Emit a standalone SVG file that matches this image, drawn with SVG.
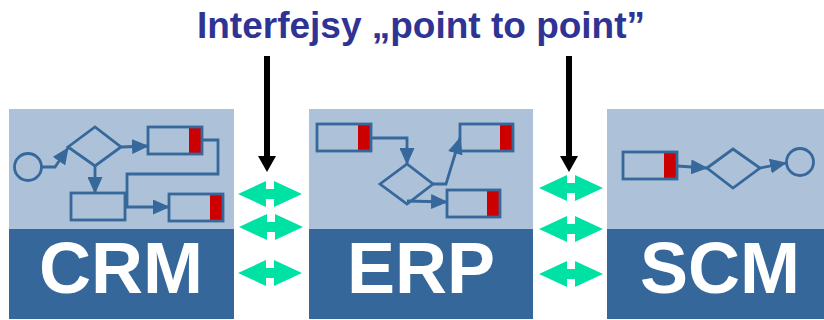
<svg xmlns="http://www.w3.org/2000/svg" width="824" height="320" viewBox="0 0 824 320">
<defs>
<style>
.light{fill:#adc2d8}
.dark{fill:#35679a}
.lbl{font-family:"Liberation Sans",Arial,sans-serif;font-weight:bold;font-size:72px;fill:#ffffff;text-anchor:middle}
.title{font-family:"Liberation Sans",Arial,sans-serif;font-weight:bold;font-size:37px;fill:#2f3394;text-anchor:middle}
.shp{fill:none;stroke:#36689c;stroke-width:2.8}
.red{fill:#cc0000}
.ln{fill:none;stroke:#36689c;stroke-width:2.8;marker-end:url(#ah)}
.grn{fill:#00e2a4}
.blk{fill:#000000}
</style>
<marker id="ah" markerUnits="userSpaceOnUse" markerWidth="17" markerHeight="15" refX="16" refY="7.5" orient="auto" viewBox="0 0 17 15">
<path d="M0,0 L17,7.5 L0,15 Z" fill="#36689c"/>
</marker>
<path id="dbl" d="M-32,0 L-4,-13 L-4,-5 L4,-5 L4,-13 L32,0 L4,13 L4,5 L-4,5 L-4,13 Z"/>
<path id="down" d="M-3,0 L3,0 L3,100 L9,100 L0,116 L-9,100 L-3,100 Z"/>
</defs>
<rect width="824" height="320" fill="#ffffff"/>
<text class="title" x="421" y="38">Interfejsy „point to point”</text>

<g id="crm">
<rect class="light" x="9" y="109" width="225" height="120"/>
<rect class="dark" x="9" y="229" width="225" height="90"/>
<circle class="shp" cx="28" cy="167" r="13.5"/>
<path class="shp" d="M68,147 L95,127 L121,147 L95,166 Z"/>
<rect class="red" x="189" y="127" width="12" height="27"/>
<rect class="shp" x="148" y="127" width="54" height="27"/>
<rect class="shp" x="71" y="193" width="54" height="27"/>
<rect class="red" x="210" y="194" width="12" height="27"/>
<rect class="shp" x="169" y="194" width="54" height="27"/>
<text class="lbl" x="121" y="293">CRM</text>
</g>

<g id="erp">
<rect class="light" x="309" y="109" width="224" height="120"/>
<rect class="dark" x="309" y="229" width="224" height="90"/>
<rect class="red" x="358" y="124" width="12" height="27"/>
<rect class="shp" x="317" y="124" width="54" height="27"/>
<path class="shp" d="M380,184 L407,164 L433,184 L407,204 Z"/>
<rect class="red" x="500" y="124" width="12" height="27"/>
<rect class="shp" x="460" y="124" width="53" height="27"/>
<rect class="red" x="487" y="190" width="12" height="27"/>
<rect class="shp" x="447" y="190" width="53" height="27"/>
<text class="lbl" x="421" y="293">ERP</text>
</g>

<g id="scm">
<rect class="light" x="607" y="109" width="217" height="120"/>
<rect class="dark" x="607" y="229" width="217" height="90"/>
<rect class="red" x="664" y="152" width="12" height="27"/>
<rect class="shp" x="623" y="152" width="54" height="27"/>
<path class="shp" d="M707,168 L733,149 L760,168 L733,188 Z"/>
<circle class="shp" cx="800" cy="162" r="13.5"/>
<text class="lbl" x="720" y="293">SCM</text>
</g>

<g id="connectors">
<path class="ln" d="M42,167 H55 L68,148"/>
<path class="ln" d="M121,147 L148,146"/>
<path class="ln" d="M95,166 V193"/>
<path class="ln" d="M202,140 H218 V174 H127 V207 H169"/>
<path class="ln" d="M371,138 H407 V164"/>
<path class="ln" d="M433,184 H446 L460,138"/>
<path class="ln" d="M407,201 L447,202"/>
<path class="ln" d="M677,166 L707,168"/>
<path class="ln" d="M760,168 L786,163"/>
<use href="#down" class="blk" x="267" y="56"/>
<use href="#down" class="blk" x="569" y="56"/>
<use href="#dbl" class="grn" x="270" y="194"/>
<use href="#dbl" class="grn" x="271" y="227"/>
<use href="#dbl" class="grn" x="270" y="273"/>
<use href="#dbl" class="grn" x="571" y="188"/>
<use href="#dbl" class="grn" x="571" y="229"/>
<use href="#dbl" class="grn" x="571" y="274"/>
</g>
</svg>
